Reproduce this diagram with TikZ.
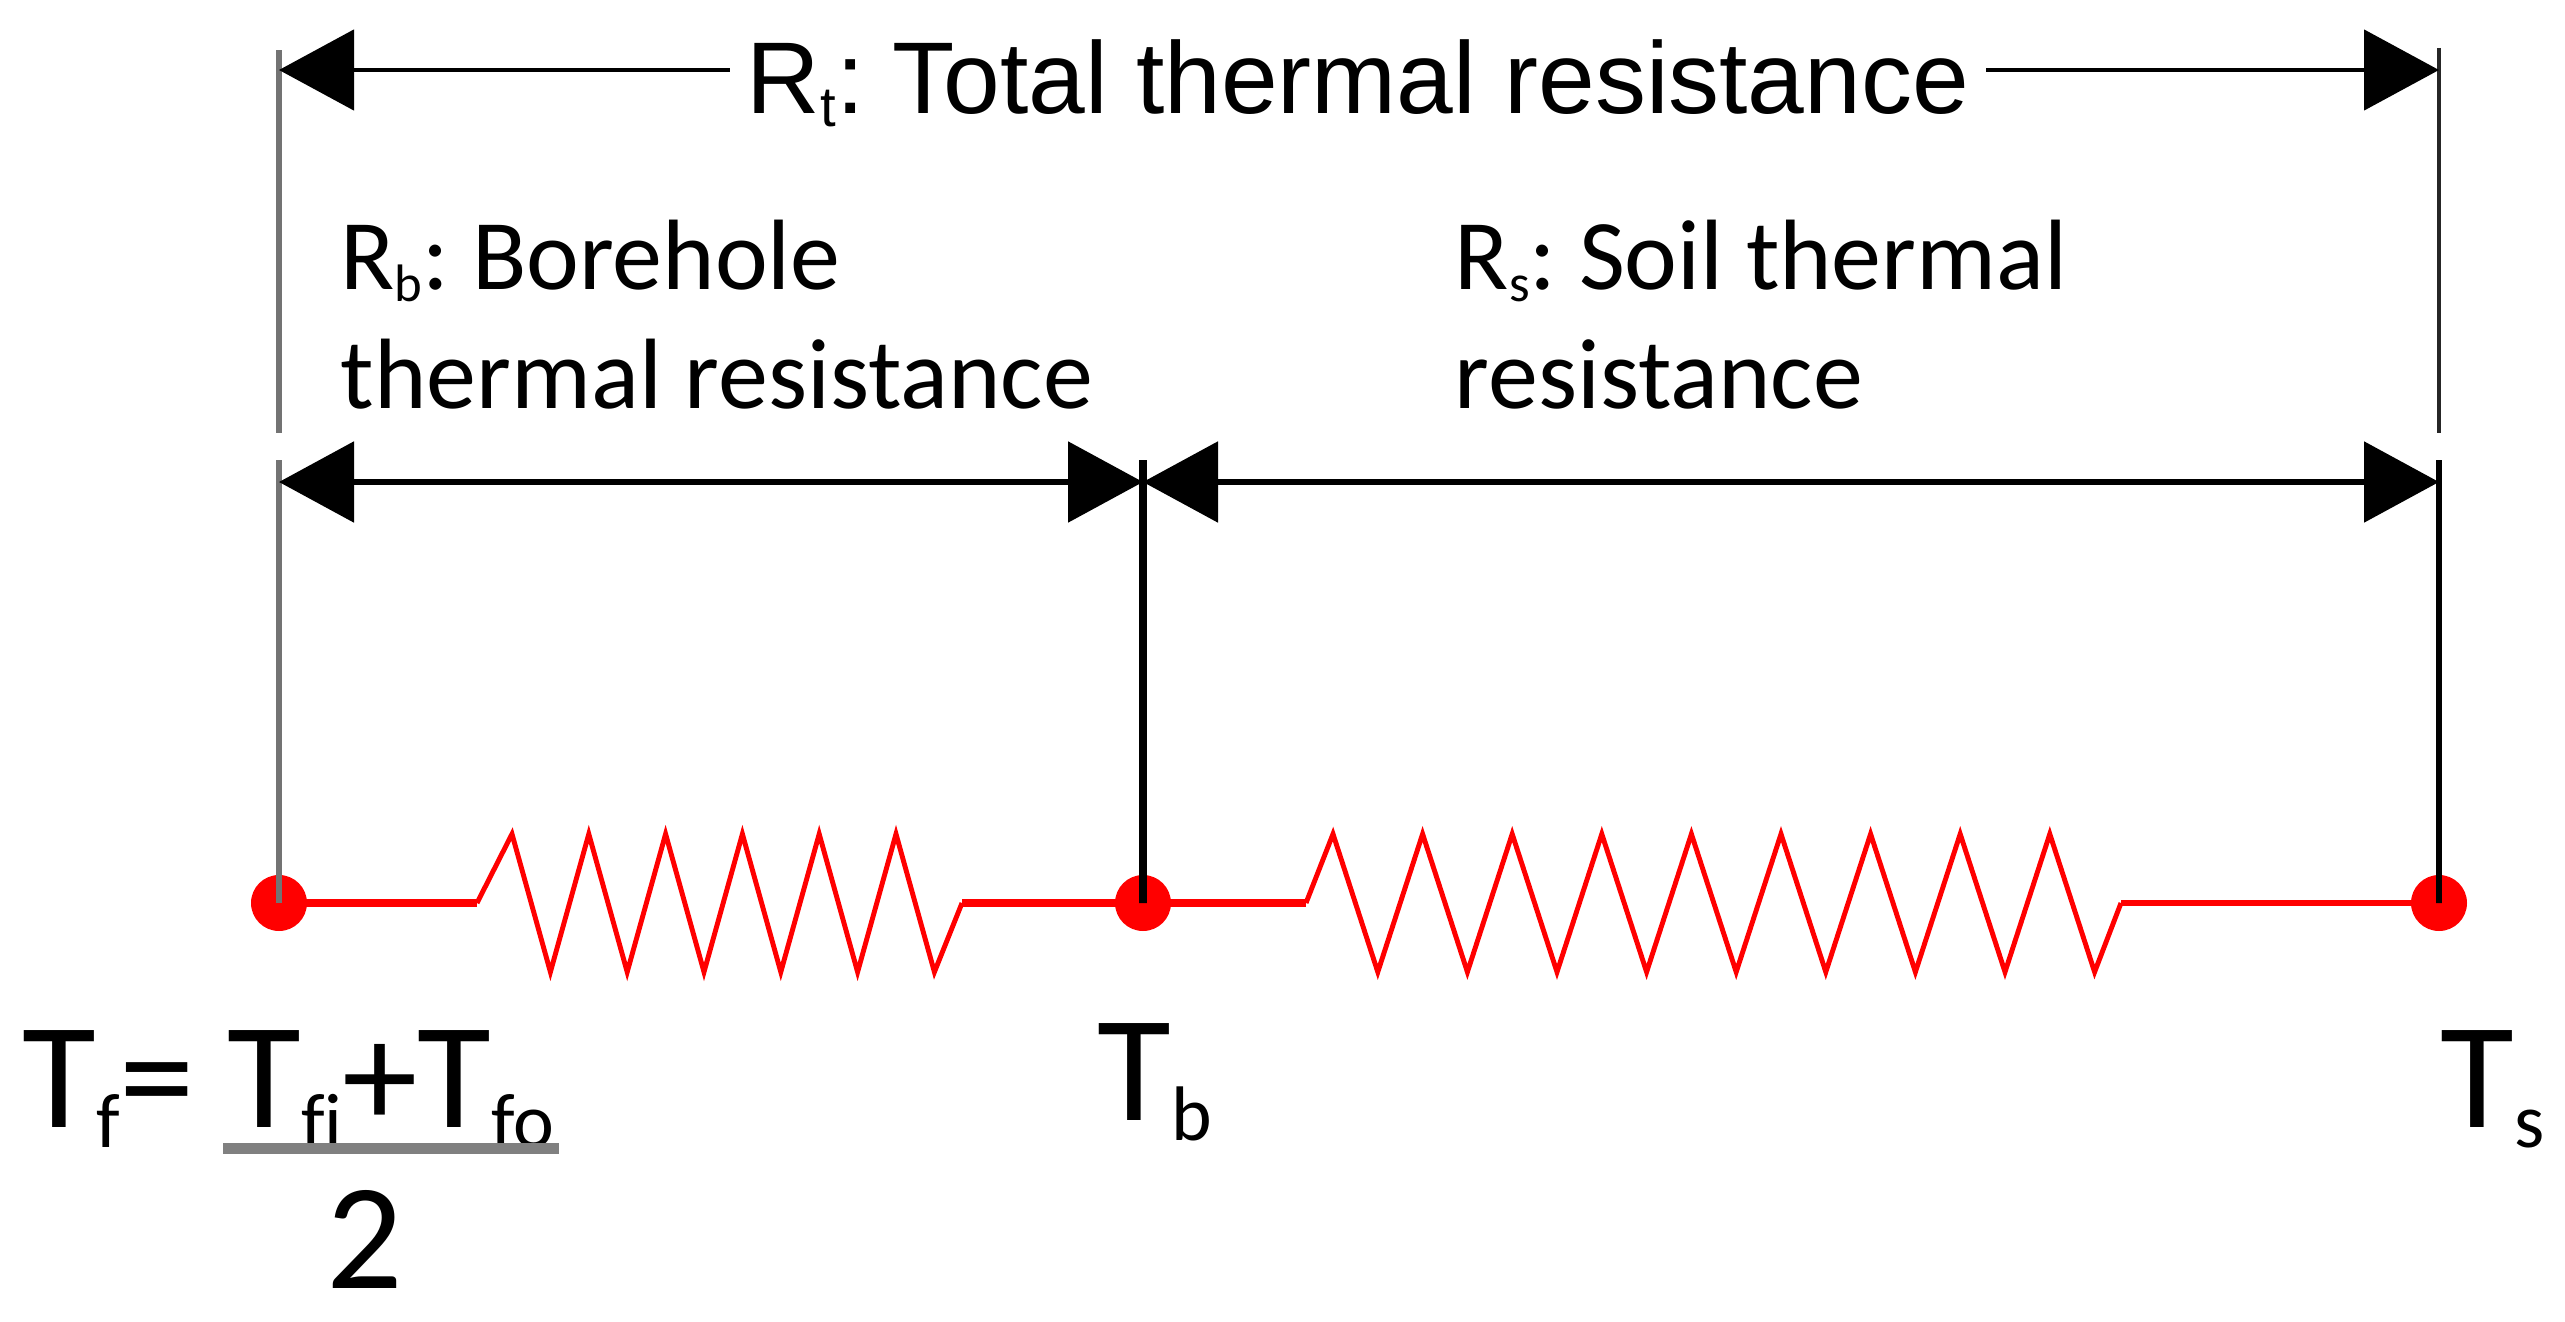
\documentclass[tikz,border=0pt]{standalone}
\usepackage{fontspec}
\setmainfont{Carlito}
\newfontfamily\arialfont{Liberation Sans}
\usepackage{tikz}
\usetikzlibrary{arrows.meta,positioning}
\frenchspacing
\tikzstyle{dot} = [draw=none, fill=red, circle, inner sep=0pt, minimum size=5.6mm]
\tikzstyle{wire} = [draw=red, line width=2.2pt]
\tikzstyle{zig} = [draw=red, line width=1.4pt]
\tikzstyle{dimline} = [draw, line width=1.6pt, <->]
\tikzstyle{guide} = [draw, line width=1.6pt]
\tikzstyle{tlabel} = [inner sep=0pt, font=\fontsize{43}{43}\selectfont]
\tikzstyle{rlabel} = [inner sep=0pt, align=left, font=\fontsize{28.45}{33.6}\selectfont]
\tikzstyle{toplabel} = [fill=white, inner xsep=1.7mm, inner ysep=1mm,
    font=\arialfont\fontsize{29}{29}\selectfont]
\tikzstyle{fracbar} = [draw=black!50, line width=3.1pt]
\newcommand{\tsub}[1]{\raisebox{-0.2cm}{\fontsize{22}{22}\selectfont #1}}
\newcommand{\rsub}[1]{\raisebox{-0.12cm}{\fontsize{15}{15}\selectfont #1}}
\newcommand{\rtsub}[1]{\raisebox{-0.14cm}{\fontsize{16}{16}\selectfont #1}}

\begin{document}
\begin{tikzpicture}[auto, >={Triangle[length=7.5mm,width=8mm]}]
    \useasboundingbox (0,0) rectangle (25.65,-13.22);
    % We start by placing the temperature nodes
    \node [dot] (Tf) at (2.79,-9.03) {};
    \node [dot, right of=Tf, node distance=8.64cm] (Tb) {};
    \node [dot, right of=Tb, node distance=12.96cm] (Ts) {};
    \coordinate [right of=Tf, node distance=1.98cm] (r1a);
    \coordinate [right of=Tf, node distance=6.83cm] (r1b);
    \coordinate [right of=Tb, node distance=1.63cm] (r2a);
    \coordinate [right of=Tb, node distance=9.78cm] (r2b);
    % the two resistors
    \draw [wire] (Tf.center) -- (r1a);
    \draw [zig] (r1a) -- ++(0.35,0.69)
        foreach \k in {1,...,11} {-- ++(0.384,{ifthenelse(isodd(\k),-1.38,1.38)})} -- (r1b);
    \draw [wire] (r1b) -- (Tb.center) -- (r2a);
    \draw [zig] (r2a) -- ++(0.27,0.69)
        foreach \k in {1,...,17} {-- ++(0.448,{ifthenelse(isodd(\k),-1.38,1.38)})} -- (r2b);
    \draw [wire, line width=1.9pt] (r2b) -- (Ts.center);
    % guide lines and dimension arrows
    \coordinate (lt) at (2.79,-0.70);
    \coordinate (rt) at (24.39,-0.70);
    \coordinate (lm) at (2.79,-4.82);
    \coordinate (bm) at (11.43,-4.82);
    \coordinate (rm) at (24.39,-4.82);
    \draw [guide, draw=black!55, line width=1.8pt] (2.79,-0.50) -- (2.79,-4.33);
    \draw [guide, draw=black!55, line width=1.8pt] (2.79,-4.60) -- (Tf.center);
    \draw [guide, draw=black!85, line width=1.4pt] (24.39,-0.48) -- (24.39,-4.33);
    \draw [guide] (24.39,-4.60) -- (Ts.center);
    \draw [guide, line width=2.2pt] (11.43,-4.60) -- (Tb.center);
    \draw [dimline, line width=1.4pt] (lt) -- (rt);
    \draw [dimline] (lm) -- (bm);
    \draw [dimline] (bm) -- (rm);
    % the texts (base of a two line node is its last line)
    \node [toplabel, anchor=base] (Rt) at (13.58,-1.13) {R\rtsub{t}: Total thermal resistance};
    \node [rlabel, anchor=base west] (Rb) at (3.40,-4.08) {R\rsub{b}: Borehole\\thermal resistance};
    \node [rlabel, anchor=base west] (Rs) at (14.54,-4.08) {R\rsub{s}: Soil thermal\\resistance};
    \node [tlabel, anchor=base west] (Tflab) at (0.22,-11.27) {T\tsub{f}=};
    \node [tlabel, anchor=base west, inner xsep=0.4mm] (num) at (2.23,-11.27) {T\tsub{f\kern0pt i}+T\tsub{fo}};
    \draw [fracbar] (num.south west) -- (num.south east);
    \node [tlabel, anchor=base] (den) at (3.645,-12.88) {2};
    \node [tlabel, anchor=base west] (Tblab) at (10.97,-11.20) {T\tsub{b}};
    \node [tlabel, anchor=base west] (Tslab) at (24.40,-11.27) {T\tsub{s}};
\end{tikzpicture}
\end{document}
